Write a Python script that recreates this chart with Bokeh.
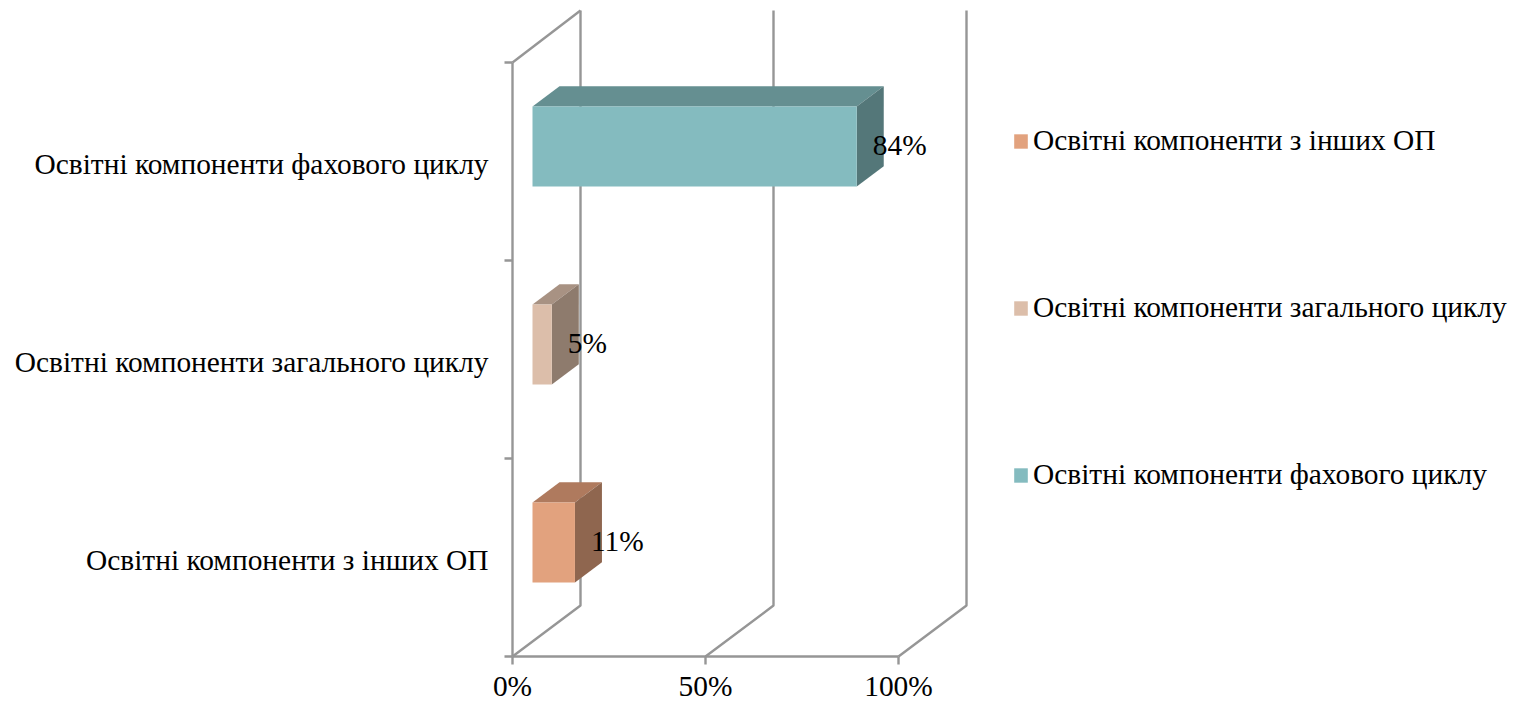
from bokeh.embed import file_html
from bokeh.resources import INLINE
from bokeh.plotting import figure
from bokeh.models import FixedTicker, Legend, LegendItem, Range1d
from bokeh.core.properties import value

categories = ["Освітні компоненти з інших ОП", "Освітні компоненти загального циклу", "Освітні компоненти фахового циклу"]
values = [11, 5, 84]
value_labels = ["11%", "5%", "84%"]
x_ticks = [0, 50, 100]
x_tick_labels = ["0%", "50%", "100%"]
front_colors = ["#E2A27E", "#DCBEAA", "#84BBBF"]
top_colors = ["#AF7A5E", "#A89283", "#658F91"]
side_colors = ["#8F664F", "#8E7B6D", "#547779"]

FONT = "Liberation Serif"
SIZE = "29.4px"
GREY = "#969696"
LINE_W = 2.4

# pixel scale of the plot box
PX_X = 100 / 386
PX_Y = 3 / 594
# 3D projection, in data units
DEPTH_X = 68 * PX_X
DEPTH_Y = 51 * PX_Y
WALL_TOP = 3 + 52 * PX_Y
FRONT = 20 / 68
BACK = 47 / 68
HALF_BAR = 40 * PX_Y
LABEL_DROP = 2 * PX_Y

p = figure(width=1515, height=703, output_backend="svg", toolbar_location=None,
           x_range=Range1d(-512 * PX_X, 1003 * PX_X), y_range=Range1d(-47 * PX_Y, 656 * PX_Y),
           min_border_left=0, min_border_right=0, min_border_top=0, min_border_bottom=0)
p.outline_line_color = None
p.grid.visible = False

# walls and floor
xs, ys = [], []
for t in x_ticks:
    xs.append([t, t + DEPTH_X, t + DEPTH_X])
    ys.append([0, DEPTH_Y, WALL_TOP])
xs.append([0, DEPTH_X])
ys.append([3, WALL_TOP])
p.multi_line(xs, ys, line_color=GREY, line_width=LINE_W)

# bars
items = []
for i, v in enumerate(values):
    cy = i + 0.5
    fx, fy = FRONT * DEPTH_X, FRONT * DEPTH_Y
    bx, by = BACK * DEPTH_X, BACK * DEPTH_Y
    p.patch([fx, bx, v + bx, v + fx],
            [cy + fy + HALF_BAR, cy + by + HALF_BAR, cy + by + HALF_BAR, cy + fy + HALF_BAR],
            fill_color=top_colors[i], line_color=None)
    p.patch([v + fx, v + bx, v + bx, v + fx],
            [cy + fy + HALF_BAR, cy + by + HALF_BAR, cy + by - HALF_BAR, cy + fy - HALF_BAR],
            fill_color=side_colors[i], line_color=None)
    r = p.quad(left=[fx], right=[v + fx], bottom=[cy + fy - HALF_BAR], top=[cy + fy + HALF_BAR],
               fill_color=front_colors[i], line_color=None)
    items.append(LegendItem(label=categories[i], renderers=[r]))

# value labels
p.text([v + FRONT * DEPTH_X for v in values], [i + 0.5 + FRONT * DEPTH_Y for i in range(3)],
       text=value_labels, x_offset=16, y_offset=-2, text_align="left", text_baseline="middle",
       text_font=value(FONT), text_font_size=SIZE, text_color="#000000")

# axes
xa = p.xaxis[0]
xa.fixed_location = 0
xa.ticker = FixedTicker(ticks=x_ticks)
xa.major_label_overrides = {t: s for t, s in zip(x_ticks, x_tick_labels)}
xa.bounds = (0, 100)
xa.axis_line_color = GREY
xa.axis_line_width = LINE_W
xa.major_tick_line_color = GREY
xa.major_tick_line_width = LINE_W
xa.major_tick_out = 8
xa.major_tick_in = 0
xa.minor_tick_out = 0
xa.minor_tick_in = 0
xa.major_label_standoff = 5
xa.major_label_text_font = FONT
xa.major_label_text_font_size = SIZE
xa.major_label_text_color = "#000000"

ya = p.yaxis[0]
ya.fixed_location = 0
label_ticks = [i + 0.5 - LABEL_DROP for i in range(3)]
ya.ticker = FixedTicker(ticks=label_ticks, minor_ticks=[0, 1, 2, 3])
ya.major_label_overrides = {t: c for t, c in zip(label_ticks, categories)}
ya.bounds = (0, 3)
ya.axis_line_color = GREY
ya.axis_line_width = LINE_W
ya.major_tick_out = 0
ya.major_tick_in = 0
ya.minor_tick_out = 8
ya.minor_tick_in = 0
ya.minor_tick_line_color = GREY
ya.minor_tick_line_width = LINE_W
ya.major_label_standoff = 16
ya.major_label_text_font = FONT
ya.major_label_text_font_size = SIZE
ya.major_label_text_color = "#000000"

# legend
legend = Legend(items=items, location=(1012, 212), orientation="vertical",
                padding=0, margin=0, spacing=134, label_height=30,
                glyph_width=17, glyph_height=18, label_standoff=4,
                border_line_color=None, background_fill_color=None,
                label_text_font=FONT, label_text_font_size=SIZE, label_text_color="#000000")
p.add_layout(legend)

open("out.html", "w").write(file_html(p, INLINE))
